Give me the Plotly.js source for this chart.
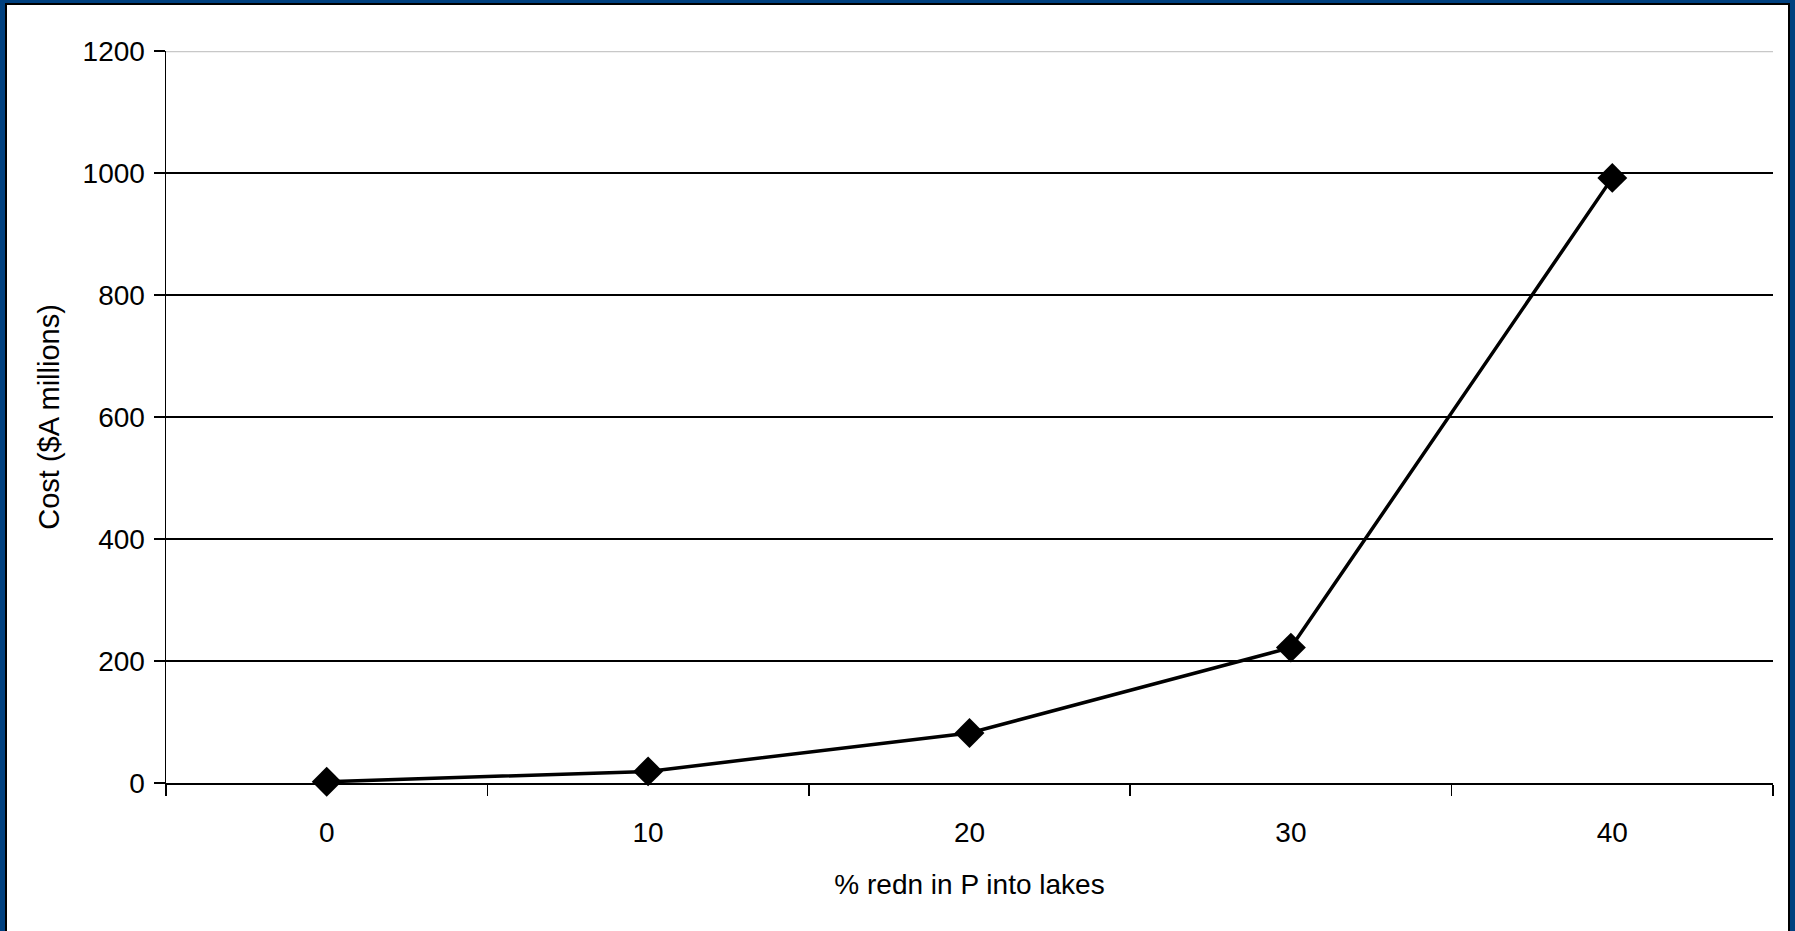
<!DOCTYPE html>
<html>
<head>
<meta charset="utf-8">
<script src="https://cdn.plot.ly/plotly-3.0.1.min.js"></script>
<style>
  html, body { margin: 0; padding: 0; width: 1795px; height: 931px; overflow: hidden; background: #00407F; }
  #frame { position: absolute; left: 5px; top: 3px; width: 1781px; height: 930px; background: #ffffff;
           border-left: 2px solid #000; border-top: 2px solid #000; border-right: 2px solid #000; }
  #chart { width: 1781px; height: 926px; }
</style>
</head>
<body>
<div id="frame"><div id="chart"></div></div>
<script>
const categories = ['0', '10', '20', '30', '40'];
const costValues = [2, 19, 82, 222, 992];
const yTickValues = [0, 200, 400, 600, 800, 1000, 1200];
const xTitle = '% redn in P into lakes';
const yTitle = 'Cost ($A millions)';

const trace = {
  x: categories,
  y: costValues,
  type: 'scatter',
  mode: 'lines+markers',
  line: { color: '#000000', width: 3.5 },
  marker: { symbol: 'diamond', size: 23, color: '#000000' },
  cliponaxis: false,
  hoverinfo: 'x+y'
};

const fontFam = '"Liberation Sans", Arial, sans-serif';

const layout = {
  width: 1781,
  height: 926,
  margin: { l: 159, r: 15, t: 46, b: 148 },
  paper_bgcolor: 'rgba(0,0,0,0)',
  plot_bgcolor: '#ffffff',
  showlegend: false,
  font: { family: fontFam, color: '#000000', size: 28 },
  xaxis: {
    type: 'category',
    range: [-0.5, 4.5],
    autorange: false,
    tickson: 'boundaries',
    ticks: 'outside',
    ticklen: 11,
    tickwidth: 1.5,
    tickcolor: '#000000',
    ticklabelstandoff: 23,
    showline: true,
    linecolor: '#000000',
    linewidth: 2,
    showgrid: false,
    zeroline: false,
    tickfont: { size: 28, family: fontFam },
    title: { text: xTitle, font: { size: 28, family: fontFam }, standoff: 28 },
    automargin: true
  },
  yaxis: {
    range: [0, 1200],
    autorange: false,
    tickvals: yTickValues,
    ticktext: yTickValues.map(String),
    ticks: 'outside',
    ticklen: 11,
    tickwidth: 1.5,
    tickcolor: '#000000',
    ticklabelstandoff: 3,
    showline: true,
    linecolor: '#000000',
    linewidth: 1.5,
    showgrid: true,
    gridcolor: '#000000',
    gridwidth: 2,
    zeroline: false,
    tickfont: { size: 28, family: fontFam },
    title: { text: yTitle, font: { size: 29, family: fontFam }, standoff: 14 },
    automargin: true
  },
  shapes: [{
    type: 'line', xref: 'paper', yref: 'y', x0: 0, x1: 1, y0: 1200, y1: 1200,
    line: { color: '#c8c8c8', width: 2.5 }, layer: 'above'
  }]
};

Plotly.newPlot('chart', [trace], layout, { staticPlot: true, displayModeBar: false });
</script>
</body>
</html>
